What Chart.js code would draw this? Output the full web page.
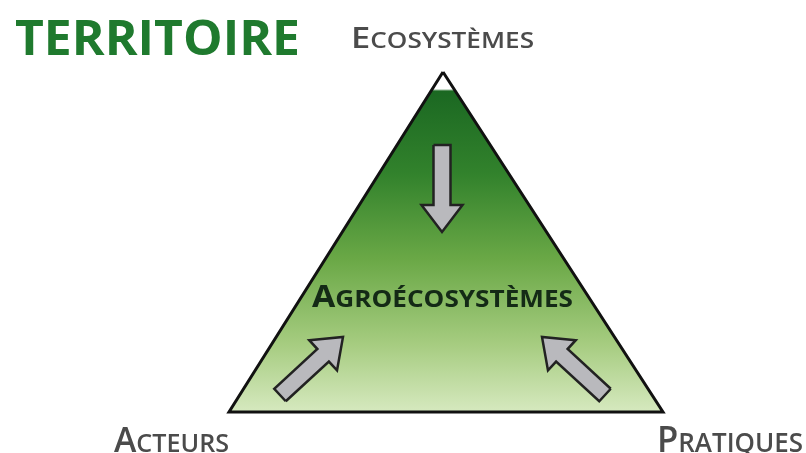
<!DOCTYPE html>
<html lang="fr">
<head>
  <meta charset="UTF-8" />
  <title>Territoire - Agroécosystèmes</title>
  <script src="https://cdn.jsdelivr.net/npm/chart.js"></script>
  <style>
    html, body { margin: 0; padding: 0; background: #fff; }
    canvas { display: block; }
  </style>
</head>
<body>
<canvas id="diagram" width="806" height="453"></canvas>

<script>
// triangle outline (closed), in picture units
const triangleX = [443, 663, 229, 443];
const triangleY = [72, 412, 412, 72];

// arrows: tail -> tip
const arrowTails = [[442, 145], [280, 395], [605, 395]];
const arrowTips  = [[442, 232], [343, 337], [542, 337]];
const shaftWidth = 17, headWidth = 41, headLength = 27;

// labels drawn as small caps: first letter large, rest small capitals
const labelText = [
  { parts: [['E', 1], ['cosystèmes', 0]], x: 351, y: 48, w: 183, big: 29, small: 22, weight: 600, color: '#4b4b4b' },
  { parts: [['A', 1], ['cteurs', 0]], x: 114, y: 452, w: 115, big: 35, small: 26, weight: 600, color: '#4b4b4b' },
  { parts: [['P', 1], ['ratiques', 0]], x: 657, y: 452, w: 146, big: 36, small: 27, weight: 600, color: '#4b4b4b' },
  { parts: [['A', 1], ['groécosystèmes', 0]], x: 312, y: 307, w: 261, big: 31, small: 24, weight: 700, color: '#142a16' }
];
const titleText = 'TERRITOIRE';

function arrowPolygon(tail, tip) {
  const dx = tip[0] - tail[0], dy = tip[1] - tail[1];
  const len = Math.hypot(dx, dy);
  const ux = dx / len, uy = dy / len;
  const nx = -uy, ny = ux;
  const bx = tip[0] - ux * headLength, by = tip[1] - uy * headLength;
  const s = shaftWidth / 2, h = headWidth / 2;
  const pts = [
    [tail[0] + nx * s, tail[1] + ny * s],
    [bx + nx * s, by + ny * s],
    [bx + nx * h, by + ny * h],
    [tip[0], tip[1]],
    [bx - nx * h, by - ny * h],
    [bx - nx * s, by - ny * s],
    [tail[0] - nx * s, tail[1] - ny * s]
  ];
  pts.push(pts[0]);
  return pts.map(p => ({ x: p[0], y: p[1] }));
}

function triangleGradient(chart) {
  const ctx = chart.ctx, y = chart.scales.y;
  const g = ctx.createLinearGradient(0, y.getPixelForValue(triangleY[0]), 0, y.getPixelForValue(triangleY[1]));
  g.addColorStop(0, '#ffffff');
  g.addColorStop(0.05, '#ffffff');
  g.addColorStop(0.056, '#1b6822');
  g.addColorStop(0.3, '#32822c');
  g.addColorStop(0.55, '#6aa846');
  g.addColorStop(0.8, '#a6cc80');
  g.addColorStop(1, '#d6e9bf');
  return g;
}

const datasets = [];
arrowTails.forEach((tail, i) => {
  datasets.push({
    data: arrowPolygon(tail, arrowTips[i]),
    borderColor: '#222222', borderWidth: 2.5, borderJoinStyle: 'miter',
    polyFill: '#b9b9bd', order: 1
  });
});
datasets.push({
  data: triangleX.map((x, i) => ({ x: x, y: triangleY[i] })),
  borderColor: '#111111', borderWidth: 3, borderJoinStyle: 'miter',
  polyFill: triangleGradient, order: 2
});

const polyFillPlugin = {
  id: 'polyFill',
  beforeDatasetDraw(chart, args) {
    const ds = chart.data.datasets[args.index];
    if (!ds.polyFill) return;
    const pts = args.meta.data, ctx = chart.ctx;
    ctx.save();
    ctx.beginPath();
    pts.forEach((p, i) => i ? ctx.lineTo(p.x, p.y) : ctx.moveTo(p.x, p.y));
    ctx.closePath();
    ctx.fillStyle = typeof ds.polyFill === 'function' ? ds.polyFill(chart) : ds.polyFill;
    ctx.fill();
    ctx.restore();
  }
};

function drawSmallCaps(ctx, lab, xs, ys) {
  const font = (size) => lab.weight + ' ' + size + 'px "Open Sans", sans-serif';
  const parts = lab.parts.map(p => [p[0].toUpperCase(), p[1]]);
  let natural = 0;
  parts.forEach(p => { ctx.font = font(p[1] ? lab.big : lab.small); natural += ctx.measureText(p[0]).width; });
  const k = lab.w / natural;
  ctx.save();
  ctx.translate(xs.getPixelForValue(lab.x), ys.getPixelForValue(lab.y));
  ctx.scale(k, 1);
  ctx.fillStyle = lab.color;
  ctx.textBaseline = 'alphabetic';
  let x = 0;
  parts.forEach(p => {
    ctx.font = font(p[1] ? lab.big : lab.small);
    ctx.fillText(p[0], x, 0);
    x += ctx.measureText(p[0]).width;
  });
  ctx.restore();
}

const textPlugin = {
  id: 'labels',
  afterDraw(chart) {
    const ctx = chart.ctx, xs = chart.scales.x, ys = chart.scales.y;
    // title
    ctx.save();
    ctx.font = 'bold 49px "Open Sans", sans-serif';
    const w = ctx.measureText(titleText).width;
    ctx.translate(xs.getPixelForValue(15), ys.getPixelForValue(55));
    ctx.scale(285 / w, 1);
    ctx.fillStyle = '#1f7a2e';
    ctx.fillText(titleText, 0, 0);
    ctx.restore();
    labelText.forEach(l => drawSmallCaps(ctx, l, xs, ys));
  }
};

new Chart(document.getElementById('diagram'), {
  type: 'scatter',
  data: { datasets: datasets },
  options: {
    responsive: false,
    animation: false,
    showLine: true,
    elements: { point: { radius: 0, hoverRadius: 0 }, line: { tension: 0, fill: false } },
    layout: { padding: 0 },
    plugins: { legend: { display: false }, tooltip: { enabled: false } },
    scales: {
      x: { type: 'linear', min: 0, max: 806, display: false },
      y: { type: 'linear', min: 0, max: 453, reverse: true, display: false }
    }
  },
  plugins: [polyFillPlugin, textPlugin]
});
</script>
</body>
</html>
